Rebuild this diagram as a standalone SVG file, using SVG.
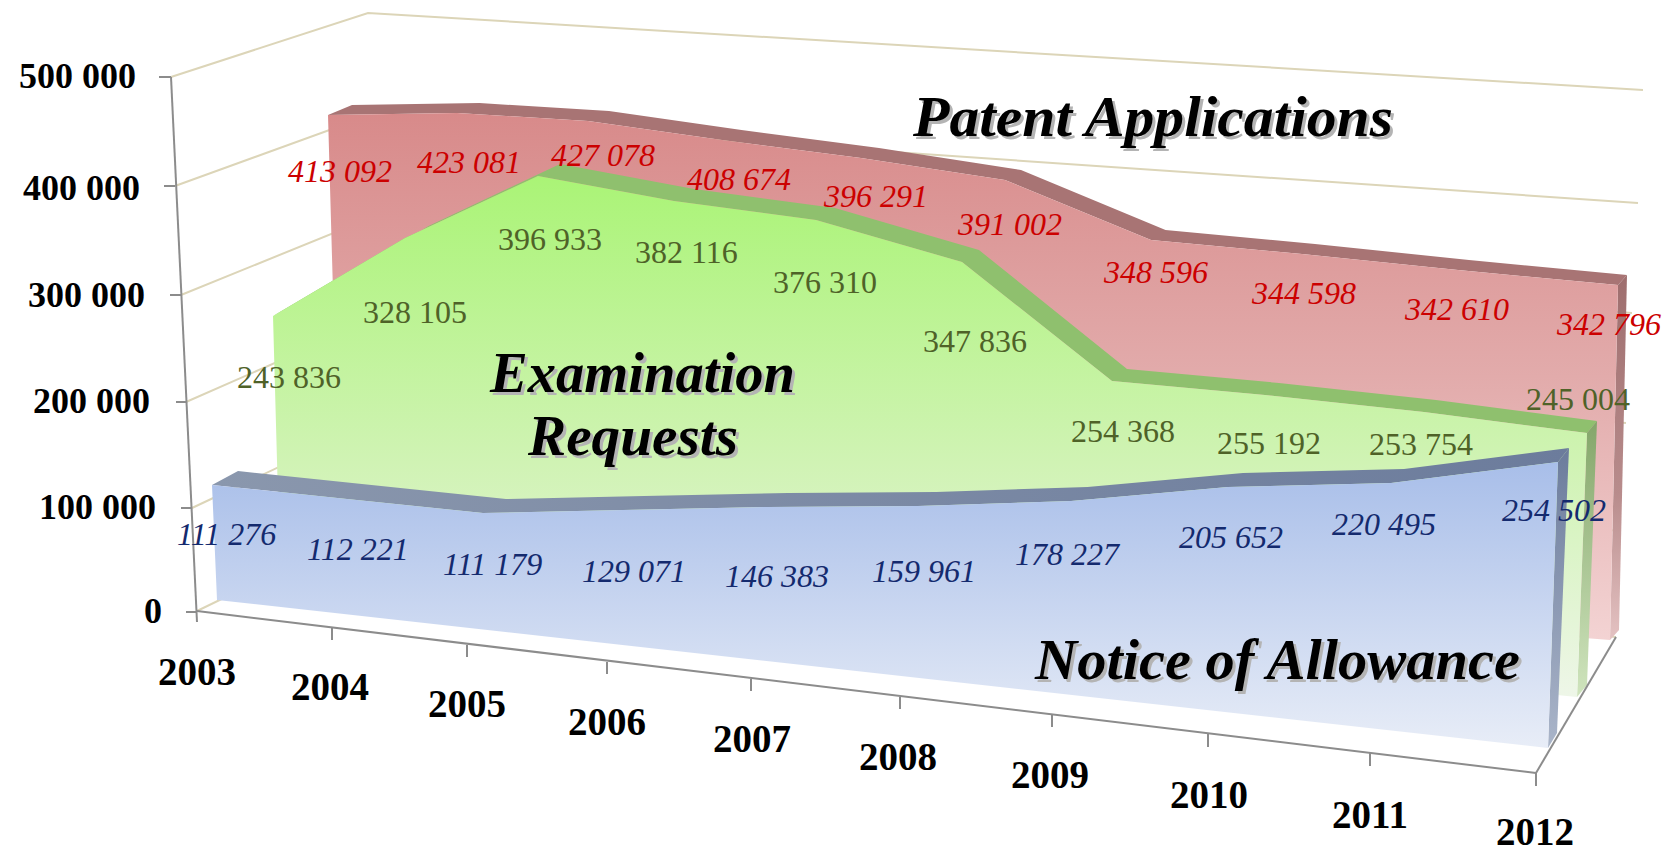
<svg xmlns="http://www.w3.org/2000/svg" width="1670" height="851" viewBox="0 0 1670 851">
<style>
.grid{stroke:#dcd5b8;stroke-width:2;fill:none}
.axis{stroke:#8c8c8c;stroke-width:2;fill:none}
.ylab{font-family:"Liberation Serif",serif;font-weight:bold;font-size:36px;fill:#000;text-anchor:end}
.xlab{font-family:"Liberation Serif",serif;font-weight:bold;font-size:39px;fill:#000;text-anchor:middle}
.dl{font-family:"Liberation Serif",serif;font-size:32px}
.red{fill:#cc0000;font-style:italic}
.grn{fill:#4f6228}
.blu{fill:#142a6e;font-style:italic}
.title{font-family:"Liberation Serif",serif;font-weight:bold;font-style:italic;font-size:58px;fill:#000}
.shadow{fill:#b4b4b4}
</style>
<defs>
<linearGradient id="redFront" x1="0" y1="0" x2="0" y2="1"><stop offset="0" stop-color="#d88a8a"/><stop offset="0.5" stop-color="#e2abab"/><stop offset="1" stop-color="#f3d3d3"/></linearGradient>
<linearGradient id="redSide" x1="0" y1="0" x2="0" y2="1"><stop offset="0" stop-color="#9e6e6e"/><stop offset="0.6" stop-color="#b88c8c"/><stop offset="1" stop-color="#e4c2c2"/></linearGradient>
<linearGradient id="greenFront" x1="0" y1="0" x2="0" y2="1"><stop offset="0" stop-color="#aaf476"/><stop offset="0.55" stop-color="#d0f3b4"/><stop offset="1" stop-color="#eef6e8"/></linearGradient>
<linearGradient id="greenSide" x1="0" y1="0" x2="0" y2="1"><stop offset="0" stop-color="#84a66a"/><stop offset="1" stop-color="#cfe4bd"/></linearGradient>
<linearGradient id="blueFront" x1="0" y1="0" x2="0" y2="1"><stop offset="0" stop-color="#a8bee9"/><stop offset="1" stop-color="#e8edf7"/></linearGradient>
<linearGradient id="blueTop" x1="0" y1="0" x2="1" y2="0"><stop offset="0" stop-color="#8a97ad"/><stop offset="1" stop-color="#6c7c9c"/></linearGradient>
<linearGradient id="blueSide" x1="0" y1="0" x2="0" y2="1"><stop offset="0" stop-color="#6c7c9c"/><stop offset="1" stop-color="#aab5c9"/></linearGradient>
</defs>
<rect width="1670" height="851" fill="#ffffff"/>

<g id="gridlines">
<polyline class="grid" points="171,77 368,13 1643,90"/>
<polyline class="grid" points="175,186 368,116 1638,203"/>
<polyline class="grid" points="181,295 368,219 1632,313"/>
<polyline class="grid" points="186,402 368,322 1626,423"/>
<polyline class="grid" points="192,508 368,425 1621,531"/>
<polyline class="grid" points="197,611 368,528 1616,637"/>
</g>

<g id="series-patent-applications">
<polygon fill="#a87474" points="328,115 457,113 588,121 722,140 861,158 1005,180 1151,240 1302,254 1458,270 1618,285 1627,275 1469,260 1315,244 1165.5,230 1021,170 879,148 741.5,130 609,111 479.5,103 352,105"/>
<polygon fill="url(#redSide)" points="1618,285 1627,275 1619,630 1610,640"/>
<polygon fill="url(#redFront)" points="328,115 457,113 588,121 722,140 861,158 1005,180 1151,240 1302,254 1458,270 1618,285 1610,640 340,540"/>
</g>

<g id="series-examination-requests">
<polygon fill="#8fc06e" points="273,316 405,238 538,176 674,201 816,220 962,262 1112,381 1265,395 1424,412 1587,433 1597,421 1436,400 1279,383 1127,369 979,250 835,208 694,189 560,164 428.5,226 298,304"/>
<polygon fill="url(#greenSide)" points="1587,433 1597,421 1587,685 1577,697"/>
<polygon fill="url(#greenFront)" points="273,316 405,238 538,176 674,201 816,220 962,262 1112,381 1265,395 1424,412 1587,433 1577,697 280,570"/>
</g>

<g id="series-notice-of-allowance">
<polygon fill="url(#blueTop)" points="212,485 347,499 483,513 623,510 768,507 918,506 1071,501 1228,487 1391,483 1558,462 1569,448 1404,469 1243,473 1087.5,487 936,492 788,493 644,496 506,499 371.5,485 238,471"/>
<polygon fill="url(#blueSide)" points="1558,462 1569,448 1557,733 1548,748"/>
<polygon fill="url(#blueFront)" points="212,485 347,499 483,513 623,510 768,507 918,506 1071,501 1228,487 1391,483 1558,462 1548,748 217,600"/>
</g>

<g id="axes">
<line class="axis" x1="171" y1="77" x2="197" y2="622"/>
<line class="axis" x1="159" y1="77" x2="171" y2="77"/>
<line class="axis" x1="164" y1="186" x2="175" y2="186"/>
<line class="axis" x1="170" y1="295" x2="181" y2="295"/>
<line class="axis" x1="176" y1="402" x2="186" y2="402"/>
<line class="axis" x1="181" y1="508" x2="192" y2="508"/>
<line class="axis" x1="186" y1="612" x2="197" y2="612"/>
<line class="axis" x1="197" y1="611" x2="1536" y2="773"/>
<line class="axis" x1="1536" y1="773" x2="1616" y2="637" stroke="#a8a8a8"/>
<line class="axis" x1="332" y1="628" x2="332" y2="640"/>
<line class="axis" x1="467" y1="645" x2="467" y2="657"/>
<line class="axis" x1="607" y1="662" x2="607" y2="674"/>
<line class="axis" x1="751" y1="679" x2="751" y2="691"/>
<line class="axis" x1="900" y1="697" x2="900" y2="709"/>
<line class="axis" x1="1052" y1="715" x2="1052" y2="727"/>
<line class="axis" x1="1208" y1="734" x2="1208" y2="747"/>
<line class="axis" x1="1370" y1="753" x2="1370" y2="766"/>
<line class="axis" x1="1536" y1="773" x2="1536" y2="786"/>
<text class="ylab" x="136" y="88">500 000</text>
<text class="ylab" x="140" y="200">400 000</text>
<text class="ylab" x="145" y="307">300 000</text>
<text class="ylab" x="150" y="413">200 000</text>
<text class="ylab" x="156" y="519">100 000</text>
<text class="ylab" x="162" y="623">0</text>
<text class="xlab" x="197" y="685">2003</text>
<text class="xlab" x="330" y="700">2004</text>
<text class="xlab" x="467" y="717">2005</text>
<text class="xlab" x="607" y="735">2006</text>
<text class="xlab" x="752" y="752">2007</text>
<text class="xlab" x="898" y="770">2008</text>
<text class="xlab" x="1050" y="788">2009</text>
<text class="xlab" x="1209" y="808">2010</text>
<text class="xlab" x="1370" y="828">2011</text>
<text class="xlab" x="1535" y="845">2012</text>
</g>

<g id="data-labels">
<text class="dl red" x="288" y="182">413 092</text>
<text class="dl red" x="417" y="173">423 081</text>
<text class="dl red" x="551" y="166">427 078</text>
<text class="dl red" x="687" y="190">408 674</text>
<text class="dl red" x="824" y="207">396 291</text>
<text class="dl red" x="958" y="235">391 002</text>
<text class="dl red" x="1104" y="283">348 596</text>
<text class="dl red" x="1252" y="304">344 598</text>
<text class="dl red" x="1405" y="320">342 610</text>
<text class="dl red" x="1557" y="335">342 796</text>
<text class="dl grn" x="237" y="388">243 836</text>
<text class="dl grn" x="363" y="323">328 105</text>
<text class="dl grn" x="498" y="250">396 933</text>
<text class="dl grn" x="635" y="263">382 116</text>
<text class="dl grn" x="773" y="293">376 310</text>
<text class="dl grn" x="923" y="352">347 836</text>
<text class="dl grn" x="1071" y="442">254 368</text>
<text class="dl grn" x="1217" y="454">255 192</text>
<text class="dl grn" x="1369" y="455">253 754</text>
<text class="dl grn" x="1526" y="410">245 004</text>
<text class="dl blu" x="177" y="545">111 276</text>
<text class="dl blu" x="307" y="560">112 221</text>
<text class="dl blu" x="443" y="575">111 179</text>
<text class="dl blu" x="582" y="582">129 071</text>
<text class="dl blu" x="725" y="587">146 383</text>
<text class="dl blu" x="872" y="582">159 961</text>
<text class="dl blu" x="1015" y="565">178 227</text>
<text class="dl blu" x="1179" y="548">205 652</text>
<text class="dl blu" x="1332" y="535">220 495</text>
<text class="dl blu" x="1502" y="521">254 502</text>
</g>

<g id="title-patent-applications">
<text class="title shadow" x="916" y="139" textLength="480" lengthAdjust="spacingAndGlyphs">Patent Applications</text>
<text class="title" x="913" y="136" textLength="480" lengthAdjust="spacingAndGlyphs">Patent Applications</text>
</g>
<g id="title-examination-requests">
<text class="title shadow" x="493" y="395" textLength="305" lengthAdjust="spacingAndGlyphs">Examination</text>
<text class="title" x="490" y="392" textLength="305" lengthAdjust="spacingAndGlyphs">Examination</text>
<text class="title shadow" x="531" y="458" textLength="210" lengthAdjust="spacingAndGlyphs">Requests</text>
<text class="title" x="528" y="455" textLength="210" lengthAdjust="spacingAndGlyphs">Requests</text>
</g>
<g id="title-notice-of-allowance">
<text class="title shadow" x="1038" y="682" textLength="485" lengthAdjust="spacingAndGlyphs">Notice of Allowance</text>
<text class="title" x="1035" y="679" textLength="485" lengthAdjust="spacingAndGlyphs">Notice of Allowance</text>
</g>
</svg>
